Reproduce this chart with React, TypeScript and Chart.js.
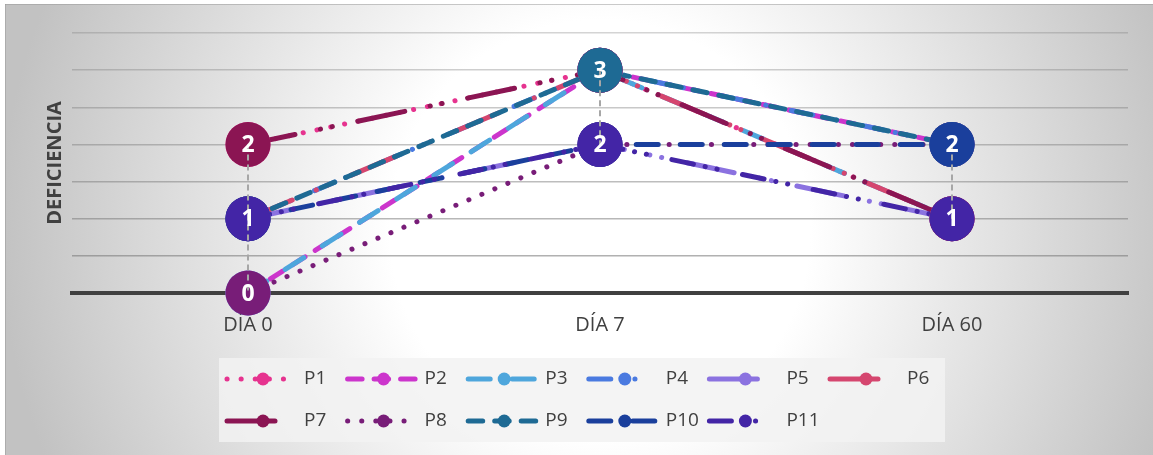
import React, { useEffect, useRef } from "react";
import { Chart, registerables } from "chart.js";

Chart.register(...registerables);

// Categories and per-patient deficiency scores
const categories = ["DÍA 0", "DÍA 7", "DÍA 60"];
const seriesNames = ["P1", "P2", "P3", "P4", "P5", "P6", "P7", "P8", "P9", "P10", "P11"];
const p1 = [2, 3, 1];
const p2 = [0, 3, 2];
const p3 = [0, 3, 1];
const p4 = [1, 3, 2];
const p5 = [1, 2, 1];
const p6 = [1, 3, 1];
const p7 = [2, 3, 1];
const p8 = [0, 2, 2];
const p9 = [1, 3, 2];
const p10 = [1, 2, 2];
const p11 = [1, 2, 1];
const seriesValues = [p1, p2, p3, p4, p5, p6, p7, p8, p9, p10, p11];

const yMin = 0;
const yMax = 3.5;
const yStep = 0.5;
const yTitle = "DEFICIENCIA";

// Styling
const colors = [
  "#e6338f", "#cc35cc", "#4ea6dc", "#4a7ae0", "#8b72e0", "#d5466f",
  "#8b1553", "#781d78", "#1e6a94", "#1a3f9c", "#4325a6",
];
const DOT = [0.1, 14];
const DASH = [14.5, 12];
const LONG_DASH = [22, 22];
const LONG_DASH_DOT = [22, 12, 0.1, 12, 0.1, 26];
const LONG_DASH_DOT_DOT = [48, 26, 0.1, 12, 0.1, 26];
const dashes = [
  DOT, DASH, LONG_DASH, LONG_DASH_DOT, LONG_DASH_DOT_DOT, LONG_DASH_DOT_DOT,
  LONG_DASH_DOT_DOT, DOT, DASH, LONG_DASH, LONG_DASH_DOT,
];

const FONT = "'Open Sans', 'Noto Sans', sans-serif";
const TEXT_COLOR = "#404040";

const decorPlugin = {
  id: "decor",
  beforeDraw(chart: any) {
    const { ctx, width, height } = chart;
    ctx.save();
    ctx.fillStyle = "#ffffff";
    ctx.fillRect(0, 0, width, height);
    const cx = 600;
    const cy = 230;
    ctx.translate(cx, cy);
    const g = ctx.createRadialGradient(0, 0, 0, 0, 0, 600);
    g.addColorStop(0, "#ffffff");
    g.addColorStop(0.35, "#ffffff");
    g.addColorStop(1, "#c2c2c2");
    ctx.fillStyle = g;
    ctx.fillRect(5 - cx, 4 - cy, width - 5, height - 4);
    ctx.restore();
    ctx.save();
    ctx.strokeStyle = "rgba(150,150,150,0.5)";
    ctx.lineWidth = 1;
    ctx.beginPath();
    ctx.moveTo(5, 4.5);
    ctx.lineTo(width, 4.5);
    ctx.moveTo(5.5, 4);
    ctx.lineTo(5.5, height);
    ctx.stroke();
    ctx.restore();
  },
  afterDatasetsDraw(chart: any) {
    const { ctx } = chart;
    const xScale = chart.scales.x;
    const yScale = chart.scales.y;
    const n = chart.data.datasets.length;

    // value bubbles, in series order so the last series sits on top
    const top: Record<string, { x: number; y: number; v: number }> = {};
    for (let i = 0; i < n; i++) {
      const ds = chart.data.datasets[i];
      ds.data.forEach((v: number, j: number) => {
        const x = xScale.getPixelForValue(j);
        const y = yScale.getPixelForValue(v);
        ctx.save();
        ctx.fillStyle = ds.borderColor;
        ctx.beginPath();
        ctx.arc(x, y, 22.5, 0, Math.PI * 2);
        ctx.fill();
        ctx.restore();
        top[j + ":" + v] = { x, y, v };
      });
    }

    // high-low lines at each category
    categories.forEach((_, j) => {
      const vals = chart.data.datasets.map((ds: any) => ds.data[j]);
      const hi = Math.max(...vals);
      const lo = Math.min(...vals);
      const x = xScale.getPixelForValue(j);
      ctx.save();
      ctx.strokeStyle = "#a6a6a6";
      ctx.lineWidth = 2;
      ctx.setLineDash([6, 4]);
      ctx.beginPath();
      ctx.moveTo(x, yScale.getPixelForValue(hi));
      ctx.lineTo(x, yScale.getPixelForValue(lo));
      ctx.stroke();
      ctx.restore();
    });

    // value text
    Object.values(top).forEach((p) => {
      ctx.save();
      ctx.fillStyle = "#ffffff";
      ctx.font = `bold 23px ${FONT}`;
      ctx.textAlign = "center";
      ctx.textBaseline = "middle";
      ctx.fillText(String(p.v), p.x, p.y + 1);
      ctx.restore();
    });
  },
  afterDraw(chart: any) {
    const { ctx } = chart;
    ctx.save();
    ctx.fillStyle = "rgba(242,242,242,0.85)";
    ctx.fillRect(219, 358, 726, 84);
    ctx.restore();
    chart.data.datasets.forEach((ds: any, i: number) => {
      const row = Math.floor(i / 6);
      const col = i % 6;
      const x0 = 227 + col * 120.6;
      const y = 379 + row * 42;
      const dash = ds.borderDash as number[];
      const len = dash.length && dash[0] > 30 ? dash[0] : 70;
      ctx.save();
      ctx.strokeStyle = ds.borderColor;
      ctx.lineWidth = 5;
      ctx.lineCap = "round";
      ctx.setLineDash(dash);
      ctx.beginPath();
      ctx.moveTo(x0, y);
      ctx.lineTo(x0 + len, y);
      ctx.stroke();
      ctx.setLineDash([]);
      ctx.fillStyle = ds.borderColor;
      ctx.beginPath();
      ctx.arc(x0 + 36, y, 6.5, 0, Math.PI * 2);
      ctx.fill();
      ctx.fillStyle = TEXT_COLOR;
      ctx.font = `19px ${FONT}`;
      ctx.textAlign = "left";
      ctx.textBaseline = "middle";
      ctx.fillText(ds.label, x0 + 77, y);
      ctx.restore();
    });
  },
};

export default function App() {
  const canvasRef = useRef<HTMLCanvasElement | null>(null);

  useEffect(() => {
    const canvas = canvasRef.current;
    if (!canvas) return;
    const n = seriesNames.length;
    const chart = new Chart(canvas, {
      type: "line",
      data: {
        labels: categories,
        datasets: seriesNames.map((name, i) => ({
          label: name,
          data: seriesValues[i],
          borderColor: colors[i],
          backgroundColor: colors[i],
          borderWidth: 5,
          borderDash: dashes[i],
          borderCapStyle: "round",
          borderJoinStyle: "round",
          pointRadius: 0,
          pointHoverRadius: 0,
          fill: false,
          tension: 0,
          order: n - i,
        })),
      },
      options: {
        responsive: false,
        animation: false,
        devicePixelRatio: 1,
        events: [],
        layout: { padding: { left: 0, right: 25, top: 33, bottom: 0 } },
        plugins: {
          legend: { display: false },
          tooltip: { enabled: false },
          title: { display: false },
        },
        scales: {
          x: {
            type: "category",
            offset: true,
            grid: { display: false, drawTicks: false },
            border: { display: true, color: "#404040", width: 4 },
            ticks: {
              color: TEXT_COLOR,
              font: { family: FONT, size: 20 },
              padding: 20,
              maxRotation: 0,
            },
            afterFit: (s: any) => {
              s.height = 162;
            },
          },
          y: {
            min: yMin,
            max: yMax,
            ticks: { display: false, stepSize: yStep },
            grid: {
              drawTicks: false,
              lineWidth: 1.5,
              color: (c: any) => {
                const v = c.tick ? c.tick.value : 0;
                const a = 0.62 - (v / yMax) * 0.3;
                return `rgba(120,120,120,${a.toFixed(3)})`;
              },
            },
            border: { display: false },
            title: {
              display: true,
              text: yTitle,
              color: TEXT_COLOR,
              font: { family: FONT, size: 20, weight: "bold" },
              padding: { top: 43, bottom: 0 },
            },
            afterFit: (s: any) => {
              s.width = 72;
            },
          },
        },
      },
      plugins: [decorPlugin],
    });
    return () => chart.destroy();
  }, []);

  return (
    <div style={{ position: "absolute", left: 0, top: 0, width: 1153, height: 455 }}>
      <canvas ref={canvasRef} width={1153} height={455} style={{ display: "block" }} />
    </div>
  );
}
